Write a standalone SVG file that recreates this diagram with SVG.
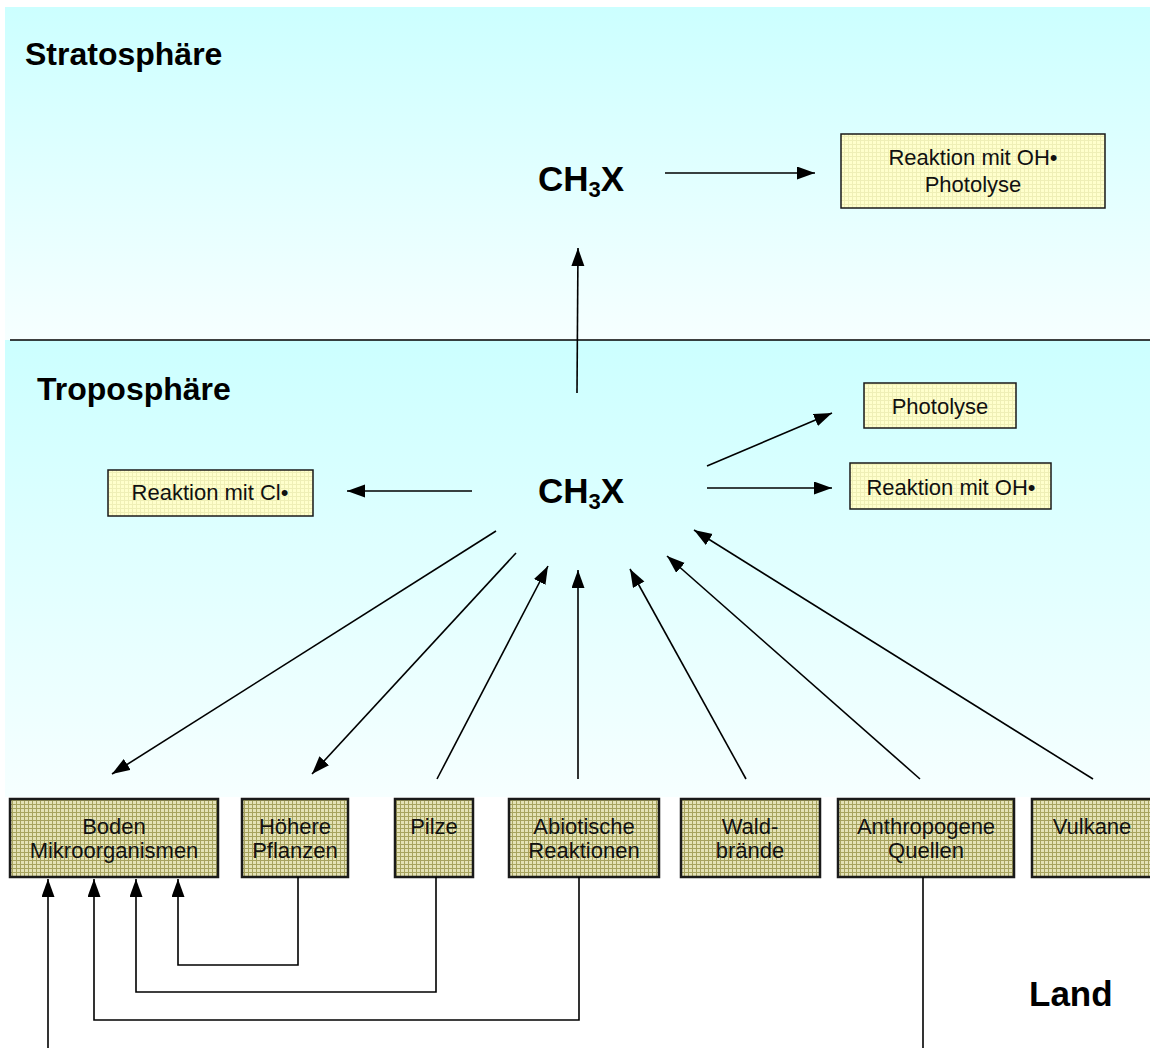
<svg xmlns="http://www.w3.org/2000/svg" width="1150" height="1048" viewBox="0 0 1150 1048">
<defs>
  <linearGradient id="sky" x1="0" y1="0" x2="0" y2="1">
    <stop offset="0" stop-color="#ccffff"/>
    <stop offset="1" stop-color="#f6ffff"/>
  </linearGradient>
  <pattern id="olive" width="4" height="4" patternUnits="userSpaceOnUse">
    <rect width="4" height="4" fill="#e4e2b6"/>
    <path d="M0,0.5 H4 M0.5,0 V4" stroke="#9c9850" stroke-width="1" opacity="0.85"/>
  </pattern>
  <pattern id="pale" width="4" height="4" patternUnits="userSpaceOnUse">
    <rect width="4" height="4" fill="#ffffcc"/>
    <path d="M0,0.5 H4 M0.5,0 V4" stroke="#e4e4a6" stroke-width="1" opacity="0.6"/>
  </pattern>
  <marker id="ah" markerUnits="userSpaceOnUse" markerWidth="20" markerHeight="14" refX="18" refY="6.5" orient="auto">
    <path d="M0,0 L18,6.5 L0,13 z" fill="#000"/>
  </marker>
</defs>
<style>
  .lbl{font-family:"Liberation Sans",Arial,sans-serif;font-weight:bold;fill:#000}
  .t{font-family:"Liberation Sans",Arial,sans-serif;font-size:22px;fill:#111;text-anchor:middle}
  .src rect{fill:url(#olive);stroke:#1a1a1a;stroke-width:2.5}
  .sink rect{fill:url(#pale);stroke:#1a1a1a;stroke-width:1.5}
  .c line,.c polyline{stroke:#000;stroke-width:1.6;fill:none}
  .c .a{marker-end:url(#ah)}
</style>

<rect x="5" y="7" width="1145" height="333" fill="url(#sky)"/>
<rect x="5" y="340" width="1145" height="457" fill="url(#sky)"/>
<line x1="10" y1="340" x2="1150" y2="340" stroke="#000" stroke-width="1.5"/>

<text class="lbl" x="25" y="65" font-size="32">Stratosphäre</text>
<text class="lbl" x="37" y="400" font-size="32">Troposphäre</text>
<text class="lbl" x="1029" y="1006" font-size="35">Land</text>

<g id="ch3x-strat"><text class="lbl" x="538" y="191" font-size="35">CH<tspan font-size="22" dy="6">3</tspan><tspan dy="-6">X</tspan></text></g>
<g id="ch3x-trop"><text class="lbl" x="538" y="503" font-size="35">CH<tspan font-size="22" dy="6">3</tspan><tspan dy="-6">X</tspan></text></g>

<g id="strat-sink" class="sink"><rect x="841" y="134" width="264" height="74"/>
  <text class="t" x="973" y="165">Reaktion mit OH•</text><text class="t" x="973" y="192">Photolyse</text></g>
<g id="cl-sink" class="sink"><rect x="108" y="470" width="205" height="46"/><text class="t" x="210" y="500">Reaktion mit Cl•</text></g>
<g id="photolyse" class="sink"><rect x="864" y="383" width="152" height="45"/><text class="t" x="940" y="414">Photolyse</text></g>
<g id="oh-sink" class="sink"><rect x="850" y="463" width="201" height="46"/><text class="t" x="951" y="495">Reaktion mit OH•</text></g>

<g id="boden" class="src"><rect x="10" y="799" width="208" height="78"/><text class="t" x="114" y="834">Boden</text><text class="t" x="114" y="858">Mikroorganismen</text></g>
<g id="pflanzen" class="src"><rect x="242" y="799" width="106" height="78"/><text class="t" x="295" y="834">Höhere</text><text class="t" x="295" y="858">Pflanzen</text></g>
<g id="pilze" class="src"><rect x="395" y="799" width="78" height="78"/><text class="t" x="434" y="834">Pilze</text></g>
<g id="abiotisch" class="src"><rect x="509" y="799" width="150" height="78"/><text class="t" x="584" y="834">Abiotische</text><text class="t" x="584" y="858">Reaktionen</text></g>
<g id="wald" class="src"><rect x="681" y="799" width="139" height="78"/><text class="t" x="750" y="834">Wald-</text><text class="t" x="750" y="858">brände</text></g>
<g id="anthropogen" class="src"><rect x="838" y="799" width="176" height="78"/><text class="t" x="926" y="834">Anthropogene</text><text class="t" x="926" y="858">Quellen</text></g>
<g id="vulkane" class="src"><rect x="1032" y="799" width="122" height="78"/><text class="t" x="1092" y="834">Vulkane</text></g>

<g id="connectors" class="c">
  <line class="a" x1="665" y1="173" x2="815" y2="173"/>
  <line class="a" x1="577" y1="393" x2="578" y2="248"/>
  <line class="a" x1="472" y1="491" x2="347" y2="491"/>
  <line class="a" x1="707" y1="466" x2="832" y2="413"/>
  <line class="a" x1="707" y1="488" x2="832" y2="488"/>
  <line class="a" x1="496" y1="531" x2="112" y2="774"/>
  <line class="a" x1="516" y1="553" x2="312" y2="774"/>
  <line class="a" x1="437" y1="779" x2="548" y2="566"/>
  <line class="a" x1="578" y1="779" x2="578" y2="570"/>
  <line class="a" x1="746" y1="779" x2="630" y2="569"/>
  <line class="a" x1="920" y1="779" x2="667" y2="556"/>
  <line class="a" x1="1093" y1="779" x2="694" y2="530"/>
  <polyline class="a" points="298,877 298,965 178,965 178,879"/>
  <polyline class="a" points="436,877 436,992 136,992 136,879"/>
  <polyline class="a" points="579,877 579,1020 94,1020 94,879"/>
  <line class="a" x1="48" y1="1048" x2="48" y2="879"/>
  <line x1="923" y1="877" x2="923" y2="1048"/>
</g>
</svg>
